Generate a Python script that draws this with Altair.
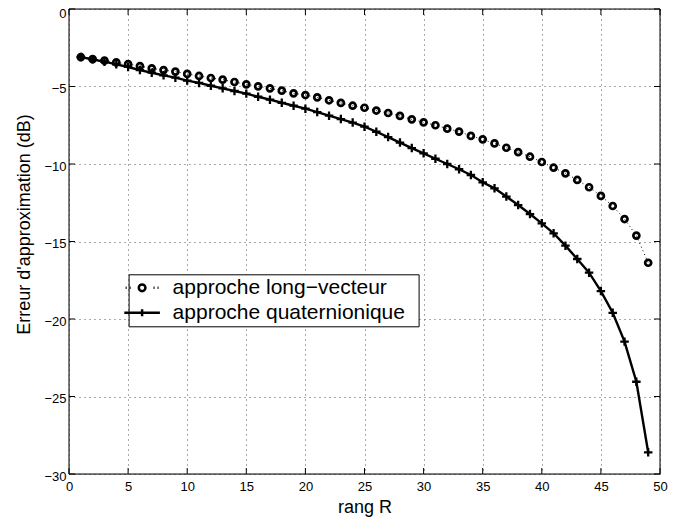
import altair as alt
import pandas as pd

# ---- data -------------------------------------------------------------
R = list(range(1, 50))
long_vecteur = [-3.10, -3.23, -3.33, -3.44, -3.55, -3.68, -3.83, -3.94, -4.04, -4.19,
                -4.32, -4.45, -4.56, -4.71, -4.86, -4.99, -5.12, -5.27, -5.44, -5.55,
                -5.70, -5.89, -6.06, -6.24, -6.37, -6.55, -6.71, -6.90, -7.12, -7.31,
                -7.50, -7.72, -7.91, -8.19, -8.41, -8.67, -8.95, -9.23, -9.53, -9.87,
                -10.24, -10.60, -11.03, -11.50, -12.06, -12.71, -13.55, -14.62, -16.37]
quaternionique = [-3.10, -3.25, -3.40, -3.57, -3.74, -3.94, -4.11, -4.28, -4.43, -4.62,
                  -4.77, -4.95, -5.12, -5.29, -5.46, -5.66, -5.85, -6.05, -6.24, -6.43,
                  -6.65, -6.88, -7.10, -7.33, -7.59, -7.92, -8.26, -8.62, -8.97, -9.31,
                  -9.66, -10.00, -10.34, -10.71, -11.18, -11.57, -12.10, -12.65, -13.23, -13.83,
                  -14.47, -15.27, -16.13, -17.01, -18.20, -19.60, -21.46, -24.05, -28.60]
series_names = ["approche long\u2212vecteur", "approche quaternionique"]
x_ticks = [0, 5, 10, 15, 20, 25, 30, 35, 40, 45, 50]
y_ticks = [-30, -25, -20, -15, -10, -5, 0]
x_edges = [0, 50]
y_edges = [-30, 0]

df = pd.DataFrame({
    "R": R + R,
    "err": long_vecteur + quaternionique,
    "serie": [series_names[0]] * len(R) + [series_names[1]] * len(R),
})
df_lv = df[df["serie"] == series_names[0]]
df_q = df[df["serie"] == series_names[1]]
xt = pd.DataFrame({"t": x_ticks})
yt = pd.DataFrame({"t": y_ticks})
xe = pd.DataFrame({"t": x_edges})
ye = pd.DataFrame({"t": y_edges})

# ---- styling -----------------------------------------------------------
W, H = 591, 465
FONT = "Liberation Sans"
TICK = 6

xs = alt.Scale(domain=[0, 50], nice=False, zero=False)
ys = alt.Scale(domain=[-30, 0], nice=False, zero=False)

xaxis = alt.Axis(values=x_ticks, grid=True, gridDash=[1, 4], gridColor="#555", gridWidth=1,
                 domain=False, ticks=False, tickSize=0, labelPadding=6, labelFlush=False,
                 labelFont=FONT, labelFontSize=13, labelColor="black", labelBound=False,
                 title="rang R", titleFont=FONT, titleFontSize=18, titleFontWeight="normal",
                 titleColor="black", titleY=33, titleBaseline="middle")
yaxis = alt.Axis(values=y_ticks, grid=True, gridDash=[1, 4], gridColor="#555", gridWidth=1,
                 domain=False, ticks=False, tickSize=0, labelPadding=3, labelFlush=False,
                 labelOffset={"condition": {"test": "datum.value == 0", "value": 4}, "value": 2},
                 labelFont=FONT, labelFontSize=13, labelColor="black", labelBound=False,
                 title="Erreur d'approximation (dB)", titleFont=FONT, titleFontSize=18,
                 titleFontWeight="normal", titleColor="black", titleX=-45, titleY=215,
                 titleBaseline="middle")

X = lambda f: alt.X(f, scale=xs, axis=xaxis)
Y = lambda f: alt.Y(f, scale=ys, axis=yaxis)

# frame and inward ticks
frame_v = alt.Chart(xe).mark_rule(color="black", strokeWidth=1).encode(
    x=X("t:Q"), y=alt.value(0), y2=alt.value(H))
frame_h = alt.Chart(ye).mark_rule(color="black", strokeWidth=1).encode(
    y=Y("t:Q"), x=alt.value(0), x2=alt.value(W))
tick_b = alt.Chart(xt).mark_rule(color="black", strokeWidth=1).encode(
    x=X("t:Q"), y=alt.value(H), y2=alt.value(H - TICK))
tick_t = alt.Chart(xt).mark_rule(color="black", strokeWidth=1).encode(
    x=X("t:Q"), y=alt.value(0), y2=alt.value(TICK))
tick_l = alt.Chart(yt).mark_rule(color="black", strokeWidth=1).encode(
    y=Y("t:Q"), x=alt.value(0), x2=alt.value(TICK))
tick_r = alt.Chart(yt).mark_rule(color="black", strokeWidth=1).encode(
    y=Y("t:Q"), x=alt.value(W), x2=alt.value(W - TICK))

# data
line_lv = alt.Chart(df_lv).mark_line(color="black", strokeWidth=1, strokeDash=[1, 3]).encode(
    x=X("R:Q"), y=Y("err:Q"))
line_q = alt.Chart(df_q).mark_line(color="black", strokeWidth=2.4).encode(
    x=X("R:Q"), y=Y("err:Q"))
pts_lv = alt.Chart(df_lv).mark_point(shape="circle", filled=False, color="black",
                                     size=36, strokeWidth=2.7, opacity=1).encode(
    x=X("R:Q"), y=Y("err:Q"))
pts_q = alt.Chart(df_q).mark_point(shape="M-1,0H1M0,-1V1", filled=False, color="black",
                                   size=72, strokeWidth=2.3, opacity=1).encode(
    x=X("R:Q"), y=Y("err:Q"))

# legend (invisible layer that only carries the legend); symbol unit = 9.247 px.
# zero-length sub-paths (not drawn) only widen the legend box to the reference margins.
path_lv = ("M-2.5,0h0M29.0,0h0M-1.78,0h0.11M-1.35,0h0.11M1.24,0h0.11M1.67,0h0.11"
           "M0.36,0A0.36,0.36,0,1,1,-0.36,0A0.36,0.36,0,1,1,0.36,0Z")
path_q = "M-2.5,0h0M29.0,0h0M-1.925,0H1.925M0,-0.38V0.38"
legend = alt.Legend(orient="none", legendX=59.6, legendY=265.3, direction="vertical", title=None,
                    labelFont=FONT, labelFontSize=21, labelColor="black", labelOffset=20,
                    labelLimit=500,
                    symbolSize=342, symbolStrokeWidth=2.5, symbolStrokeColor="black",
                    symbolFillColor="transparent", symbolOpacity=1,
                    padding=3, rowPadding=3, strokeColor="black", fillColor="white")
leg = alt.Chart(df).mark_point(filled=False, color="black", opacity=0).encode(
    x=X("R:Q"), y=Y("err:Q"),
    shape=alt.Shape("serie:N", scale=alt.Scale(domain=series_names, range=[path_lv, path_q]),
                    legend=legend))

chart = alt.layer(frame_v, frame_h, tick_b, tick_t, tick_l, tick_r,
                  line_lv, line_q, pts_lv, pts_q, leg).properties(
    width=W, height=H,
    autosize=alt.AutoSizeParams(type="none"),
    padding={"left": 61, "top": 1, "right": 23, "bottom": 46},
).configure_view(stroke=None).configure(background="white")

chart.save("out.html", embed_options={"renderer": "svg", "actions": False})
